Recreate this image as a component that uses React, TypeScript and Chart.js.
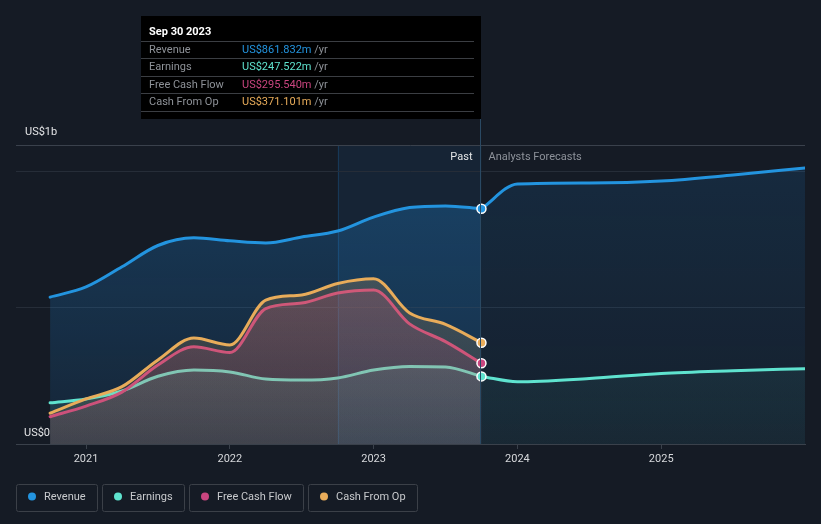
import { useEffect, useRef } from 'react';
import { Chart, registerables } from 'chart.js';

Chart.register(...registerables);

const FONT = 'Roboto, "Noto Sans", sans-serif';

// ---- data (US$ millions, x = decimal year) ----
const pastDates = [2020.75, 2021.0, 2021.25, 2021.5, 2021.75, 2022.0, 2022.25, 2022.5, 2022.75, 2023.0, 2023.25, 2023.5, 2023.75];
const revenuePast = [538, 575, 649, 727, 755, 744, 736, 758, 780, 831, 866, 872, 861.832];
const earningsPast = [151, 165, 194, 248, 271, 264, 238, 234, 242, 271, 284, 282, 247.522];
const fcfPast = [100, 139, 190, 289, 356, 335, 496, 516, 553, 564, 440, 375, 295.54];
const cfoPast = [113, 165, 210, 308, 388, 363, 527, 546, 588, 605, 480, 438, 371.101];
const forecastDates = [2023.75, 2024.0, 2024.5, 2025.0, 2025.5, 2026.0];
const revenueForecast = [861.832, 952, 956, 963, 985, 1011];
const earningsForecast = [247.522, 228, 240, 258, 268, 276];
const yearTicks = [2021, 2022, 2023, 2024, 2025];
const gridValues = [500, 1000];
const seriesNames = ['Revenue', 'Earnings', 'Free Cash Flow', 'Cash From Op'];
const tooltipDate = 'Sep 30 2023';
const bandStart = 2022.75;
const pastEnd = 2023.75;
const xMin = 2020.513;
const xMax = 2026.0;
const yMax = 1095;

const COLORS = ['#2394df', '#5fe3cf', '#c9457f', '#e8ac5a'];
const RGB = ['33,150,243', '94,227,207', '201,69,127', '232,172,90'];

function grad(rgb: string, base: number) {
  return (c: any) => {
    const ca = c.chart.chartArea;
    if (!ca) return `rgba(${rgb},${base})`;
    const g = c.chart.ctx.createLinearGradient(0, ca.top, 0, ca.bottom);
    g.addColorStop(0, `rgba(${rgb},${base * 1.5})`);
    g.addColorStop(1, `rgba(${rgb},${base * 0.5})`);
    return g;
  };
}

const toPts = (xs: number[], ys: number[]) => xs.map((x, i) => ({ x, y: ys[i] }));

const overlay = {
  id: 'overlay',
  beforeDatasetsDraw(chart: any) {
    const { ctx, chartArea: ca, scales } = chart;
    const x = scales.x, y = scales.y;
    ctx.save();
    const bx0 = x.getPixelForValue(bandStart);
    const bx1 = x.getPixelForValue(pastEnd);
    ctx.fillStyle = 'rgba(33,150,243,0.08)';
    ctx.fillRect(bx0, ca.top, bx1 - bx0, ca.bottom - ca.top);
    ctx.strokeStyle = 'rgba(33,150,243,0.18)';
    ctx.lineWidth = 1;
    ctx.beginPath();
    ctx.moveTo(Math.round(bx0) + 0.5, ca.top);
    ctx.lineTo(Math.round(bx0) + 0.5, ca.bottom);
    ctx.stroke();
    ctx.strokeStyle = '#262d38';
    gridValues.forEach((v) => {
      const py = Math.round(y.getPixelForValue(v)) + 0.5;
      ctx.beginPath();
      ctx.moveTo(ca.left, py);
      ctx.lineTo(ca.right, py);
      ctx.stroke();
    });
    ctx.restore();
  },
  afterDatasetsDraw(chart: any) {
    const { ctx } = chart;
    ctx.save();
    [0, 1, 2, 3].forEach((i) => {
      const meta = chart.getDatasetMeta(i);
      const pt = meta.data[meta.data.length - 1];
      ctx.beginPath();
      ctx.arc(pt.x, pt.y, 4.5, 0, Math.PI * 2);
      ctx.fillStyle = COLORS[i];
      ctx.fill();
      ctx.lineWidth = 1.5;
      ctx.strokeStyle = '#ffffff';
      ctx.stroke();
    });
    ctx.restore();
  },
  afterDraw(chart: any) {
    const { ctx, chartArea: ca, scales } = chart;
    const x = scales.x;
    const px = Math.round(x.getPixelForValue(pastEnd)) - 0.5;
    ctx.save();
    // top line
    ctx.strokeStyle = '#3a414c';
    ctx.lineWidth = 1;
    ctx.beginPath();
    ctx.moveTo(ca.left, ca.top + 0.5);
    ctx.lineTo(ca.right, ca.top + 0.5);
    ctx.stroke();
    // vertical marker
    ctx.strokeStyle = '#2a4963';
    ctx.beginPath();
    ctx.moveTo(px, 119);
    ctx.lineTo(px, ca.bottom);
    ctx.stroke();

    ctx.textBaseline = 'middle';
    ctx.font = `11px ${FONT}`;
    ctx.fillStyle = '#e4e5e7';
    ctx.textAlign = 'left';
    ctx.fillText('US$1b', 25, 132);
    ctx.fillText('US$0', 24, 433);
    ctx.textAlign = 'right';
    ctx.fillText('Past', px - 8, 157);
    ctx.textAlign = 'left';
    ctx.fillStyle = '#8d929a';
    ctx.fillText('Analysts Forecasts', px + 8, 157);

    // tooltip box
    ctx.fillStyle = '#000000';
    ctx.fillRect(141, 16, 340, 103);
    ctx.fillStyle = '#ffffff';
    ctx.font = `bold 11px ${FONT}`;
    ctx.fillText(tooltipDate, 149, 32);
    const vals = [revenuePast, earningsPast, fcfPast, cfoPast].map((a) => a[a.length - 1]);
    const rowY = [50, 67, 85, 102];
    const sepY = [41, 58, 76, 93, 111];
    ctx.strokeStyle = '#3b3e43';
    sepY.forEach((sy) => {
      ctx.beginPath();
      ctx.moveTo(141, sy + 0.5);
      ctx.lineTo(474, sy + 0.5);
      ctx.stroke();
    });
    ctx.font = `11px ${FONT}`;
    seriesNames.forEach((n, i) => {
      ctx.fillStyle = '#8e9298';
      ctx.fillText(n, 149, rowY[i]);
      const txt = `US$${vals[i].toFixed(3)}m`;
      ctx.fillStyle = COLORS[i];
      ctx.fillText(txt, 242, rowY[i]);
      const w = ctx.measureText(txt).width;
      ctx.fillStyle = '#8e9298';
      ctx.fillText(' /yr', 242 + w, rowY[i]);
    });

    // legend
    ctx.font = `11px ${FONT}`;
    let lx = 16;
    seriesNames.forEach((n, i) => {
      const w = ctx.measureText(n).width;
      const bw = Math.round(28 + w + 11);
      ctx.strokeStyle = '#3b4048';
      ctx.lineWidth = 1;
      ctx.beginPath();
      ctx.roundRect(lx + 0.5, 484.5, bw, 27, 2);
      ctx.stroke();
      ctx.beginPath();
      ctx.arc(lx + 16, 496.5, 4, 0, Math.PI * 2);
      ctx.fillStyle = COLORS[i];
      ctx.fill();
      ctx.fillStyle = '#c8cacd';
      ctx.fillText(n, lx + 28, 497);
      lx += bw + 5;
    });
    ctx.restore();
  },
};

export default function App() {
  const ref = useRef<HTMLCanvasElement>(null);
  useEffect(() => {
    const common = {
      pointRadius: 0,
      borderWidth: 3,
      fill: 'origin',
      cubicInterpolationMode: 'monotone',
      borderCapStyle: 'round',
      borderJoinStyle: 'round',
    };
    const chart = new Chart(ref.current as HTMLCanvasElement, {
      type: 'line',
      data: {
        datasets: [
          { ...common, label: 'Revenue', data: toPts(pastDates, revenuePast), borderColor: COLORS[0], backgroundColor: grad(RGB[0], 0.18), order: 4 },
          { ...common, label: 'Earnings', data: toPts(pastDates, earningsPast), borderColor: COLORS[1], backgroundColor: grad(RGB[1], 0.18), order: 3 },
          { ...common, label: 'Free Cash Flow', data: toPts(pastDates, fcfPast), borderColor: COLORS[2], backgroundColor: grad(RGB[2], 0.22), order: 2 },
          { ...common, label: 'Cash From Op', data: toPts(pastDates, cfoPast), borderColor: COLORS[3], backgroundColor: grad(RGB[3], 0.19), order: 1 },
          { ...common, label: 'Revenue forecast', data: toPts(forecastDates, revenueForecast), borderColor: COLORS[0], backgroundColor: grad(RGB[0], 0.09), order: 6 },
          { ...common, label: 'Earnings forecast', data: toPts(forecastDates, earningsForecast), borderColor: COLORS[1], backgroundColor: grad(RGB[1], 0.09), order: 5 },
        ] as any,
      },
      options: {
        animation: false,
        responsive: false,
        events: [],
        layout: { padding: { left: 16, right: 16, top: 145, bottom: 0 } },
        plugins: { legend: { display: false }, tooltip: { enabled: false } },
        scales: {
          x: {
            type: 'linear',
            min: xMin,
            max: xMax,
            afterBuildTicks: (s: any) => {
              s.ticks = yearTicks.map((v) => ({ value: v }));
            },
            afterFit: (s: any) => {
              s.height = 80;
            },
            ticks: {
              color: '#d6d8db',
              font: { family: FONT, size: 11 },
              padding: 4,
              maxRotation: 0,
              callback: (v: any) => String(v),
            },
            grid: { display: true, drawOnChartArea: false, drawTicks: true, tickLength: 5, color: '#3a414b' },
            border: { display: true, color: '#3a414b' },
          },
          y: { display: false, min: 0, max: yMax },
        },
      } as any,
      plugins: [overlay],
    });
    return () => chart.destroy();
  }, []);
  return (
    <div style={{ position: 'fixed', left: 0, top: 0, width: 821, height: 524, background: '#151b25' }}>
      <canvas ref={ref} width={821} height={524} style={{ display: 'block', width: 821, height: 524 }} />
    </div>
  );
}
